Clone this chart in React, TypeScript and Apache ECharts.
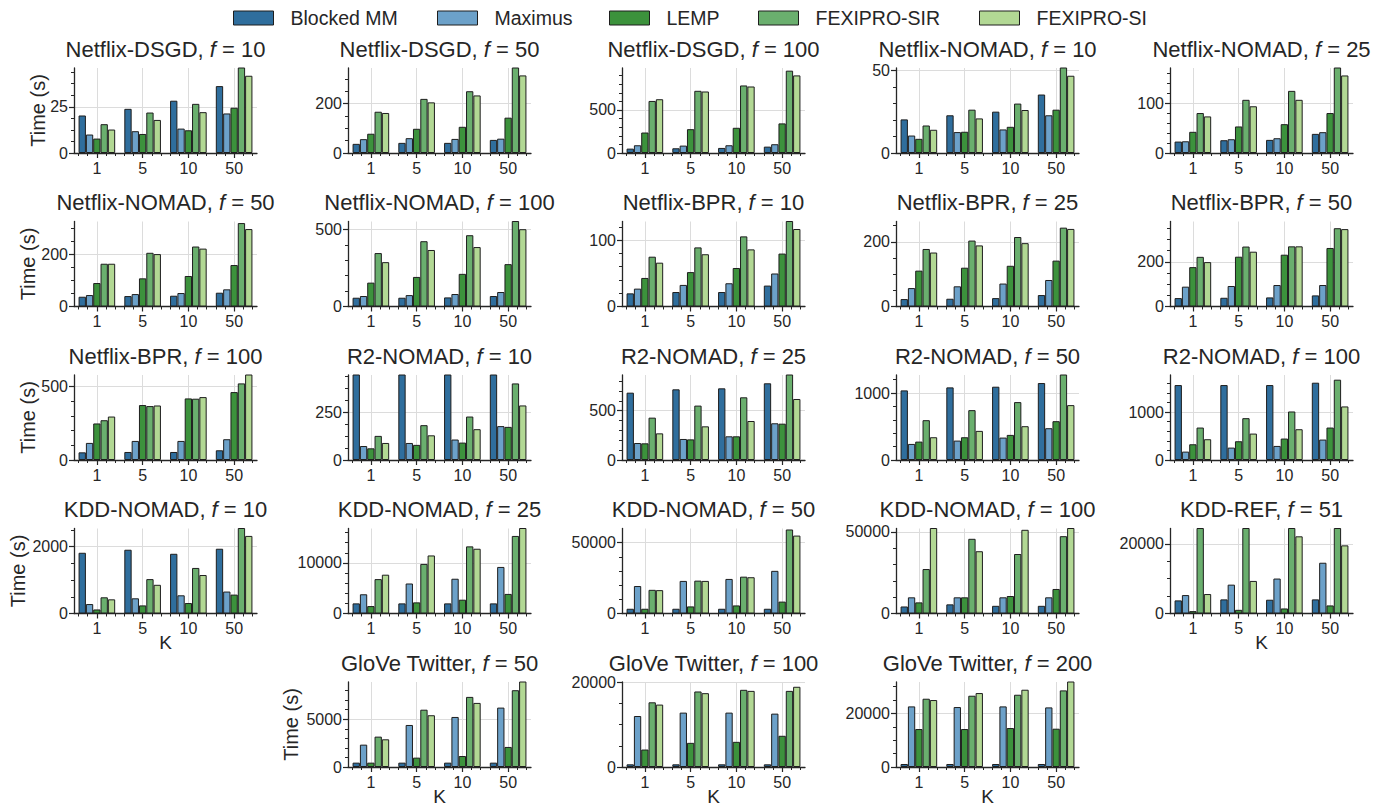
import React, { useEffect, useRef } from "react";
import * as echarts from "echarts";

const methods = ["Blocked MM", "Maximus", "LEMP", "FEXIPRO-SIR", "FEXIPRO-SI"];
const methodColors = ["#2f6e9d", "#6ca1c9", "#3c923c", "#6aaf6e", "#b2d894"];
const kLabels = ["1", "5", "10", "50"];

// Each panel: rows = methods (Blocked MM, Maximus, LEMP, FEXIPRO-SIR, FEXIPRO-SI), columns = K (1, 5, 10, 50)
const netflixDsgd10 = [[20.3, 23.9, 28.3, 36.2], [10, 11.8, 13.2, 21.4], [7.8, 10.3, 12.3, 24.5], [15.6, 21.9, 26.6, 50], [12.7, 17.9, 22.1, 41.8]];
const netflixDsgd50 = [[37, 41, 41, 53], [56, 60, 57, 58], [78, 98, 106, 143], [167, 219, 250, 380], [162, 205, 233, 314]];
const netflixDsgd100 = [[51, 55, 59, 74], [90, 86, 90, 102], [238, 277, 293, 344], [605, 723, 785, 957], [625, 715, 773, 902]];
const netflixNomad10 = [[20.4, 22.9, 25.1, 35.5], [10.6, 12.7, 14.3, 22.9], [8.6, 12.9, 15.9, 26.3], [16.7, 26.3, 30, 55], [14.1, 21, 26.1, 46.9]];
const netflixNomad25 = [[23, 25.7, 26.4, 38.5], [23.6, 27.7, 29.7, 41.9], [42.6, 53.4, 58, 80.4], [80.4, 107, 125, 185], [73.6, 94, 107, 156]];
const netflixNomad50 = [[37.4, 40, 41.3, 52.9], [43.9, 47.7, 51.6, 65.8], [90, 108, 117, 159], [164, 206, 230, 320], [164, 201, 222, 297]];
const netflixNomad100 = [[57, 57, 59, 68], [68, 74, 81, 94], [155, 192, 212, 275], [347, 424, 463, 600], [288, 367, 386, 502]];
const netflixBpr10 = [[19.8, 21.8, 21.8, 31.5], [26.9, 32.5, 35, 49.7], [43, 51.8, 58, 79.7], [75, 89, 105.6, 135], [66, 78.7, 86, 116.7]];
const netflixBpr25 = [[23, 24, 26, 35.4], [57, 62.5, 71, 82], [111, 120, 126, 142], [178, 204, 215, 244], [167, 189, 196, 240]];
const netflixBpr50 = [[37.6, 39, 40.6, 49.6], [88.7, 91.7, 96, 96], [176, 222.6, 231.6, 261.6], [222, 268, 269, 350], [198.5, 245, 269, 346]];
const netflixBpr100 = [[52, 54.5, 54.5, 66], [116, 129.5, 129.5, 141], [248, 373, 418, 461], [270, 366, 416, 520], [295, 370, 427, 600]];
const r2Nomad10 = [[650, 680, 660, 700], [73, 89, 107, 177], [61, 79, 91, 173], [126, 182, 227, 400], [89, 129, 161, 285]];
const r2Nomad25 = [[682, 716, 726, 777], [172, 213, 240, 372], [169, 209, 240, 368], [429, 551, 635, 900], [270, 341, 395, 618]];
const r2Nomad50 = [[1040, 1085, 1095, 1150], [240, 290, 335, 475], [275, 340, 375, 580], [595, 745, 865, 1400], [340, 435, 505, 820]];
const r2Nomad100 = [[1566, 1566, 1566, 1615], [175, 259, 294, 427], [329, 392, 448, 678], [678, 874, 1014, 1678], [434, 552, 643, 1119]];
const kddNomad10 = [[1818, 1909, 1788, 1939], [283, 455, 545, 657], [121, 242, 313, 566], [485, 1030, 1364, 2800], [424, 859, 1152, 2323]];
const kddNomad25 = [[2000, 2000, 2000, 2000], [3800, 5930, 6870, 9200], [1470, 2200, 2730, 3870], [6800, 9800, 13270, 15330], [7670, 11470, 12800, 18000]];
const kddNomad50 = [[3350, 3350, 3350, 3350], [19400, 23000, 24400, 30100], [3350, 5000, 5700, 8400], [16700, 23200, 26000, 59300], [16500, 23000, 25600, 55000]];
const kddNomad100 = [[4300, 5600, 4700, 4700], [9900, 9900, 9900, 9900], [6800, 9900, 10700, 15000], [27200, 45700, 36400, 47300], [55000, 38100, 51200, 56000]];
const kddRef51 = [[3770, 4060, 3960, 4060], [5300, 8300, 10050, 14600], [680, 1060, 1450, 2320], [30000, 30000, 30000, 30000], [5600, 9370, 22200, 19600]];
const gloveTwitter50 = [[455, 455, 455, 455], [2340, 4400, 5240, 6220], [455, 980, 1150, 2100], [3180, 6000, 7340, 8040], [2900, 5420, 6710, 9500]];
const gloveTwitter100 = [[635, 635, 635, 635], [12060, 12860, 12860, 12620], [4130, 5710, 5950, 7380], [15300, 17860, 18250, 18000], [14760, 17460, 18000, 18970]];
const gloveTwitter200 = [[1120, 1120, 1120, 1120], [22600, 22360, 22600, 22230], [14160, 14160, 14530, 14280], [25460, 26580, 26950, 28570], [24970, 27580, 28820, 33000]];

// Panel definitions: title, f, data, y-axis top, major step, minor divisions
const panels = [
  { name: "Netflix-DSGD", f: "10", data: netflixDsgd10, ymax: 46, step: 25, minor: 4, row: 0, col: 0 },
  { name: "Netflix-DSGD", f: "50", data: netflixDsgd50, ymax: 344, step: 200, minor: 4, row: 0, col: 1 },
  { name: "Netflix-DSGD", f: "100", data: netflixDsgd100, ymax: 988, step: 500, minor: 5, row: 0, col: 2 },
  { name: "Netflix-NOMAD", f: "10", data: netflixNomad10, ymax: 51.6, step: 50, minor: 5, row: 0, col: 3 },
  { name: "Netflix-NOMAD", f: "25", data: netflixNomad25, ymax: 171, step: 100, minor: 5, row: 0, col: 4 },
  { name: "Netflix-NOMAD", f: "50", data: netflixNomad50, ymax: 326, step: 200, minor: 4, row: 1, col: 0 },
  { name: "Netflix-NOMAD", f: "100", data: netflixNomad100, ymax: 552, step: 500, minor: 5, row: 1, col: 1 },
  { name: "Netflix-BPR", f: "10", data: netflixBpr10, ymax: 128, step: 100, minor: 5, row: 1, col: 2 },
  { name: "Netflix-BPR", f: "25", data: netflixBpr25, ymax: 263, step: 200, minor: 4, row: 1, col: 3 },
  { name: "Netflix-BPR", f: "50", data: netflixBpr50, ymax: 380, step: 200, minor: 4, row: 1, col: 4 },
  { name: "Netflix-BPR", f: "100", data: netflixBpr100, ymax: 577, step: 500, minor: 5, row: 2, col: 0 },
  { name: "R2-NOMAD", f: "10", data: r2Nomad10, ymax: 444, step: 250, minor: 4, row: 2, col: 1 },
  { name: "R2-NOMAD", f: "25", data: r2Nomad25, ymax: 861, step: 500, minor: 5, row: 2, col: 2 },
  { name: "R2-NOMAD", f: "50", data: r2Nomad50, ymax: 1270, step: 1000, minor: 5, row: 2, col: 3 },
  { name: "R2-NOMAD", f: "100", data: r2Nomad100, ymax: 1776, step: 1000, minor: 5, row: 2, col: 4 },
  { name: "KDD-NOMAD", f: "10", data: kddNomad10, ymax: 2545, step: 2000, minor: 4, row: 3, col: 0 },
  { name: "KDD-NOMAD", f: "25", data: kddNomad25, ymax: 16800, step: 10000, minor: 5, row: 3, col: 1 },
  { name: "KDD-NOMAD", f: "50", data: kddNomad50, ymax: 60000, step: 50000, minor: 5, row: 3, col: 2 },
  { name: "KDD-NOMAD", f: "100", data: kddNomad100, ymax: 52000, step: 50000, minor: 5, row: 3, col: 3 },
  { name: "KDD-REF", f: "51", data: kddRef51, ymax: 24450, step: 20000, minor: 4, row: 3, col: 4 },
  { name: "GloVe Twitter", f: "50", data: gloveTwitter50, ymax: 8900, step: 5000, minor: 5, row: 4, col: 1 },
  { name: "GloVe Twitter", f: "100", data: gloveTwitter100, ymax: 20100, step: 20000, minor: 4, row: 4, col: 2 },
  { name: "GloVe Twitter", f: "200", data: gloveTwitter200, ymax: 31700, step: 20000, minor: 4, row: 4, col: 3 },
];

const yLabelPanels = [0, 5, 10, 15, 20];
const yLabelX = [38, 28, 28, 18, 291];
const xLabelPanels = [15, 19, 20, 21, 22];

const FONT = "'Liberation Sans', Arial, Helvetica, sans-serif";
const TEXT = "#262626";
const AXIS = "#262626";
const GRIDC = "#dcdcdc";
const COL_LEFT0 = 74;
const COL_STEP = 274;
const GRID_W = 183;
const GRID_H = 85;
const ROW_TOP = [68, 221.5, 375, 528.5, 682];
const legendLeft = [233, 437, 609, 758, 979];

function buildOption() {
  const grid: any[] = [];
  const xAxis: any[] = [];
  const yAxis: any[] = [];
  const series: any[] = [];
  const graphic: any[] = [];
  const xMajor = [0, 1, 2, 3];
  const xMinor: number[] = [];
  for (let t = -2; t <= 17; t++) {
    const v = Math.round(t * 2) / 10;
    if (Math.abs(v - Math.round(v)) > 1e-6) xMinor.push(v);
  }
  const barW = (GRID_W / 4) * 0.16;

  panels.forEach((p, idx) => {
    const left = COL_LEFT0 + COL_STEP * p.col;
    const top = ROW_TOP[p.row];
    grid.push({ left, top, width: GRID_W, height: GRID_H });
    const yMajor: number[] = [];
    for (let v = 0; v <= p.ymax + 1e-9; v += p.step) yMajor.push(v);
    const yMinor: number[] = [];
    const ms = p.step / p.minor;
    for (let k = 1; k * ms < p.ymax; k++) {
      if (k % p.minor !== 0) yMinor.push(k * ms);
    }
    const tickStyle = { color: AXIS, width: 1.2 };
    xAxis.push({
      gridIndex: idx, type: "value", min: -0.5, max: 3.5, position: "bottom",
      axisLine: { show: true, onZero: false, lineStyle: { color: AXIS, width: 1.3 } },
      axisTick: { show: true, length: 5, customValues: xMajor, lineStyle: tickStyle },
      axisLabel: { show: true, customValues: xMajor, formatter: (v: number) => kLabels[Math.round(v)], fontSize: 16, color: TEXT, fontFamily: FONT, margin: 7 },
      splitLine: { show: true, lineStyle: { color: GRIDC, width: 1 } },
    });
    xAxis.push({
      gridIndex: idx, type: "value", min: -0.5, max: 3.5, position: "bottom",
      axisLine: { show: false, onZero: false },
      axisTick: { show: true, length: 3, customValues: xMinor, lineStyle: { color: AXIS, width: 1 } },
      axisLabel: { show: false },
      splitLine: { show: false },
    });
    yAxis.push({
      gridIndex: idx, type: "value", min: 0, max: p.ymax, position: "left",
      axisLine: { show: true, onZero: false, lineStyle: { color: AXIS, width: 1.3 } },
      axisTick: { show: true, length: 5, customValues: yMajor, lineStyle: tickStyle },
      axisLabel: { show: true, customValues: yMajor, formatter: (v: number) => String(v), fontSize: 16, color: TEXT, fontFamily: FONT, margin: 6 },
      splitLine: { show: true, lineStyle: { color: GRIDC, width: 1 } },
    });
    yAxis.push({
      gridIndex: idx, type: "value", min: 0, max: p.ymax, position: "left",
      axisLine: { show: false, onZero: false },
      axisTick: { show: true, length: 3, customValues: yMinor, lineStyle: { color: AXIS, width: 1 } },
      axisLabel: { show: false },
      splitLine: { show: false },
    });
    methods.forEach((m, j) => {
      series.push({
        type: "bar", name: m, xAxisIndex: idx * 2, yAxisIndex: idx * 2,
        barWidth: barW, barGap: "-100%", clip: true,
        itemStyle: { color: methodColors[j], borderColor: "#1e1e1e", borderWidth: 1 },
        data: p.data[j].map((v, i) => [i + (j - 2) * 0.16, v]),
      });
    });
    graphic.push({
      type: "text", x: left + GRID_W / 2, y: top - 19, silent: true,
      style: {
        text: `{a|${p.name}, }{b|f}{a| = ${p.f}}`,
        align: "center", verticalAlign: "middle",
        rich: {
          a: { fontSize: 22, fontFamily: FONT, fill: TEXT },
          b: { fontSize: 22, fontFamily: FONT, fill: TEXT, fontStyle: "italic" },
        },
      },
    });
  });

  yLabelPanels.forEach((pi, k) => {
    const p = panels[pi];
    graphic.push({
      type: "text", x: yLabelX[k], y: ROW_TOP[p.row] + GRID_H / 2, rotation: Math.PI / 2, silent: true,
      style: { text: "Time (s)", fontSize: 20, fontFamily: FONT, fill: TEXT, align: "center", verticalAlign: "middle" },
    });
  });
  xLabelPanels.forEach((pi) => {
    const p = panels[pi];
    graphic.push({
      type: "text", x: COL_LEFT0 + COL_STEP * p.col + GRID_W / 2, y: ROW_TOP[p.row] + GRID_H + 29, silent: true,
      style: { text: "K", fontSize: 19, fontFamily: FONT, fill: TEXT, align: "center", verticalAlign: "middle" },
    });
  });

  const legend = methods.map((m, j) => ({
    data: [m], left: legendLeft[j], top: 8, padding: 0, itemWidth: 40, itemHeight: 14,
    icon: "rect", selectedMode: false,
    itemStyle: { borderColor: "#1e1e1e", borderWidth: 1 },
    textStyle: { fontSize: 19.5, fontFamily: FONT, color: TEXT, padding: [0, 0, 0, 12] },
  }));

  return {
    animation: false,
    backgroundColor: "#ffffff",
    legend, grid, xAxis, yAxis, series, graphic,
  };
}

export default function App() {
  const ref = useRef<HTMLDivElement>(null);
  useEffect(() => {
    if (!ref.current) return;
    const chart = echarts.init(ref.current, undefined, { renderer: "svg" });
    chart.setOption(buildOption() as any);
    return () => chart.dispose();
  }, []);
  return <div ref={ref} style={{ position: "fixed", left: 0, top: 0, width: 1387, height: 806, background: "#fff" }} />;
}
